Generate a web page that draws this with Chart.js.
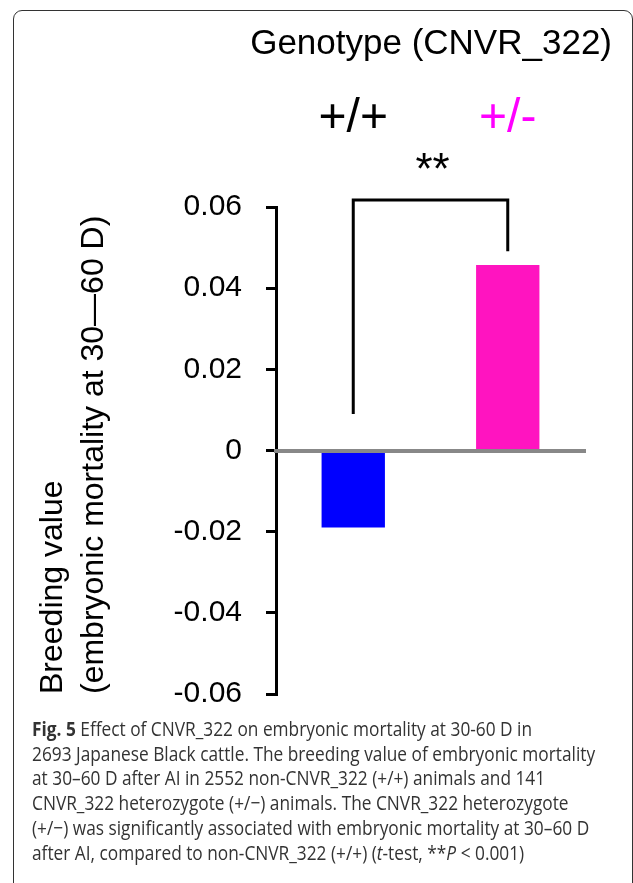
<!DOCTYPE html>
<html>
<head>
  <meta charset="utf-8" />
  <title>CNVR_322 breeding value</title>
  <script src="https://cdn.jsdelivr.net/npm/chart.js"></script>
  <style>
    html, body {
      margin: 0;
      padding: 0;
      background: #fff;
      width: 633px;
      height: 883px;
      overflow: hidden;
      position: relative;
    }
    /* frame round figure, open at the bottom */
    .frame {
      position: absolute;
      left: 13px;
      top: 10px;
      width: 618px;
      height: 900px;
      border: 1px solid #333;
      border-radius: 9px;
    }
    #chart {
      position: absolute;
      left: 0;
      top: 0;
    }
    .caption {
      position: absolute;
      left: 32px;
      top: 717px;
      font-family: "Open Sans", sans-serif;
      font-size: 20px;
      line-height: 24.7px;
      color: #333;
      transform-origin: 0 0;
      transform: scaleX(0.864);
    }
    .caption div { white-space: nowrap; }
  </style>
</head>
<body>
  <div class="frame"></div>
  <canvas id="chart" width="633" height="736"></canvas>

  <div class="caption">
    <div><b>Fig. 5</b> Effect of CNVR_322 on embryonic mortality at 30-60 D in</div>
    <div>2693 Japanese Black cattle. The breeding value of embryonic mortality</div>
    <div>at 30–60 D after AI in 2552 non-CNVR_322 (+/+) animals and 141</div>
    <div>CNVR_322 heterozygote (+/−) animals. The CNVR_322 heterozygote</div>
    <div>(+/−) was significantly associated with embryonic mortality at 30–60 D</div>
    <div>after AI, compared to non-CNVR_322 (+/+) (<i>t</i>-test, **<i>P</i> &lt; 0.001)</div>
  </div>

  <script>
    // data
    const genotypes = ['+/+', '+/-'];
    const breedingValues = [-0.019, 0.0457];
    const barColors = ['#0000ff', '#ff14c0'];
    const labelColors = ['#000000', '#ff00ff'];
    const yTicks = [-0.06, -0.04, -0.02, 0, 0.02, 0.04, 0.06];
    // bracket: left foot, top, right foot (in y units) and the stars above it
    const bracketLevels = [0.009, 0.0617, 0.0491];
    const starLevel = 0.071;

    const FONT = '"Liberation Sans", Arial, sans-serif';

    // draws title, bracket and ** on top of the chart
    const figureText = {
      id: 'figureText',
      afterDraw(chart) {
        const ctx = chart.ctx;
        const x = chart.scales.x;
        const y = chart.scales.y;
        ctx.save();

        ctx.fillStyle = '#000';
        ctx.font = '35px ' + FONT;
        ctx.textAlign = 'right';
        ctx.textBaseline = 'middle';
        ctx.fillText('Genotype (CNVR_322)', 612, 44);

        const x1 = x.getPixelForValue(0);
        const x2 = x.getPixelForValue(1);
        ctx.strokeStyle = '#000';
        ctx.lineWidth = 3;
        ctx.beginPath();
        ctx.moveTo(x1, y.getPixelForValue(bracketLevels[0]));
        ctx.lineTo(x1, y.getPixelForValue(bracketLevels[1]));
        ctx.lineTo(x2, y.getPixelForValue(bracketLevels[1]));
        ctx.lineTo(x2, y.getPixelForValue(bracketLevels[2]));
        ctx.stroke();

        ctx.font = '44px ' + FONT;
        ctx.textAlign = 'center';
        ctx.fillText('**', (x1 + x2) / 2 + 2, y.getPixelForValue(starLevel) + 10);
        ctx.restore();
      }
    };

    new Chart(document.getElementById('chart'), {
      type: 'bar',
      data: {
        labels: genotypes,
        datasets: [{
          data: breedingValues,
          backgroundColor: barColors,
          barPercentage: 0.41,
          categoryPercentage: 1
        }]
      },
      options: {
        responsive: false,
        animation: false,
        layout: { padding: { top: 0, right: 48, bottom: 7, left: 0 } },
        plugins: {
          legend: { display: false },
          tooltip: { enabled: false }
        },
        scales: {
          y: {
            min: -0.06,
            max: 0.06,
            afterFit: (s) => { s.width = 276; },
            afterBuildTicks: (s) => { s.ticks = yTicks.map(v => ({ value: v })); },
            ticks: {
              padding: 24,
              color: '#000',
              font: { family: FONT, size: 30 },
              callback: (v) => String(Math.round(v * 100) / 100)
            },
            grid: {
              drawOnChartArea: false,
              drawTicks: true,
              tickLength: 10,
              lineWidth: 3,
              color: '#000'
            },
            border: { display: true, color: '#000', width: 3 },
            title: {
              display: true,
              text: ['Breeding value', '(embryonic mortality at 30—60 D)'],
              align: 'start',
              color: '#000',
              font: { family: FONT, size: 32, lineHeight: '41px' },
              padding: { top: 33, bottom: 0 }
            }
          },
          x: {
            position: { y: 0 },
            grid: { display: false, drawTicks: false },
            ticks: { display: false },
            border: { display: true, color: '#888888', width: 4, z: 1 }
          },
          x2: {
            type: 'category',
            labels: genotypes,
            position: 'top',
            offset: true,
            afterFit: (s) => { s.height = 207; },
            grid: { display: false, drawTicks: false },
            border: { display: false },
            ticks: {
              padding: 59,
              autoSkip: false,
              maxRotation: 0,
              color: (c) => labelColors[c.index],
              font: { family: FONT, size: 48 }
            }
          }
        }
      },
      plugins: [figureText]
    });
  </script>
</body>
</html>
